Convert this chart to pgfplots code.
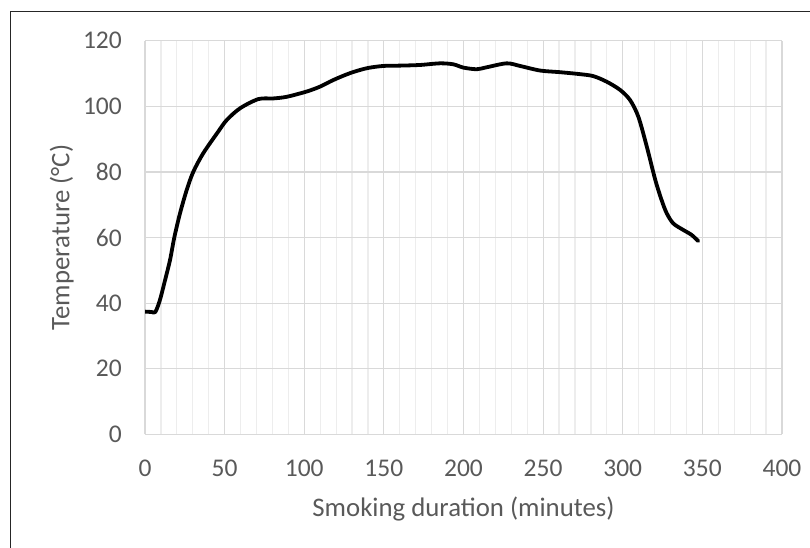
\documentclass[border=0pt]{standalone}
\usepackage{pgfplots}
\pgfplotsset{compat=1.18}
\usepackage{fontspec}
\setmainfont{Carlito}
\definecolor{txt}{HTML}{595959}
\definecolor{majgrid}{HTML}{D9D9D9}
\definecolor{mingrid}{HTML}{EDEDED}
\begin{document}
\begin{tikzpicture}[x=1pt,y=1pt]
\useasboundingbox (0,0) rectangle (810,547);
\draw[line width=1.2pt, black!85] (10.7,-5) -- (10.7,535.3) -- (815,535.3);
\begin{axis}[
  scale only axis,
  width=637pt, height=393.6pt,
  at={(145pt,112.7pt)}, anchor=south west,
  xmin=0, xmax=400, ymin=0, ymax=120,
  xtick={0,50,...,400}, ytick={0,20,...,120},
  minor x tick num=4,
  grid=both,
  major grid style={majgrid, line width=1.2pt},
  minor grid style={mingrid, line width=1.2pt},
  axis line style={draw=none},
  major tick length=0pt, minor tick length=0pt,
  /pgf/number format/assume math mode=true,
  tick label style={font=\fontsize{25.5}{30}\selectfont, text=txt, inner sep=0pt},
  xticklabel style={anchor=north, yshift=-25.5pt},
  yticklabel style={anchor=east, xshift=-23pt},
  xlabel={Smoking duration (minutes)},
  ylabel={Temperature (°C)},
  label style={font=\fontsize{26.8}{31}\selectfont, text=txt, inner sep=0pt},
  xlabel style={at={(axis description cs:0.5,-0.20757)}, anchor=base},
  ylabel style={at={(axis description cs:-0.11884,0.5)}, anchor=base},
]
\addplot[black, line width=3.8pt, smooth, tension=0.5, line join=round, line cap=round] coordinates {
(0,37.4) (4,37.3) (6.5,37.3) (9.4,41) (12.6,47) (15.7,53.1) (18.4,60) (22,67.4)
(26.2,74.5) (30.3,80) (36.6,85.7) (46,92.3) (51.3,95.8) (59.7,99.4) (71.2,102.2)
(80.6,102.4) (89,102.9) (101.5,104.5) (109.9,106) (118.2,108) (128.7,110.1)
(139.2,111.6) (149.6,112.3) (160,112.4) (172.7,112.6) (185.2,113.1) (193.6,112.8)
(199.9,111.8) (208.3,111.3) (214.6,111.9) (227.1,113.1) (235.5,112.3) (248.1,110.9)
(260.6,110.4) (273.2,109.8) (281.5,109.2) (289.9,107.5) (298.3,105) (304.6,101.9)
(309.8,96.8) (315.1,87.7) (320.4,77.6) (324.4,71.4) (327.6,67.4) (331.7,64.3)
(338,62.3) (343.2,60.8) (347.4,58.9)
};
\end{axis}
\end{tikzpicture}
\end{document}
